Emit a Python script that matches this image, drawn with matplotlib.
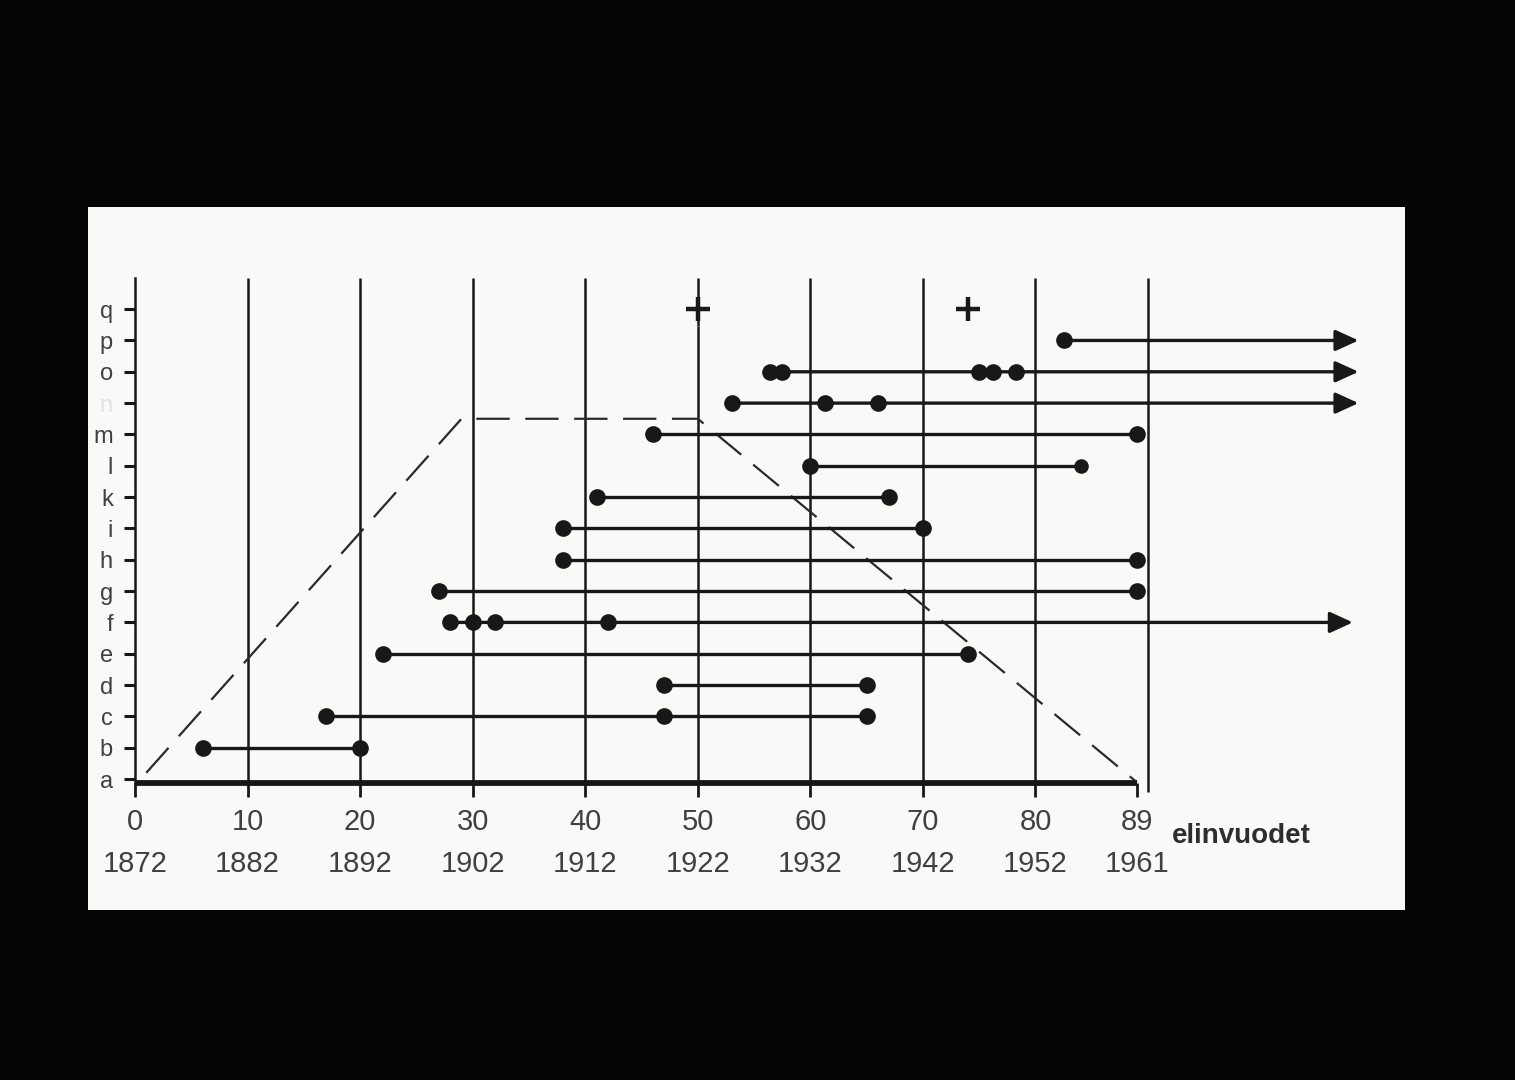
import matplotlib
matplotlib.use("Agg")
import matplotlib.pyplot as plt
from matplotlib import font_manager

# ---- fonts -------------------------------------------------------------
_available = {f.name for f in font_manager.fontManager.ttflist}


def pick(*names):
    for n in names:
        if n in _available:
            return n
    return "DejaVu Sans"


NUM_FONT = pick("Liberation Sans Narrow", "Liberation Sans", "DejaVu Sans")
TXT_FONT = pick("Liberation Sans", "DejaVu Sans")

# ---- data --------------------------------------------------------------
rows = ['a', 'b', 'c', 'd', 'e', 'f', 'g', 'h', 'i', 'k', 'l', 'm', 'n', 'o', 'p', 'q']
ages = [0, 10, 20, 30, 40, 50, 60, 70, 80, 89]
years = [1872, 1882, 1892, 1902, 1912, 1922, 1932, 1942, 1952, 1961]
grid_ages = [10, 20, 30, 40, 50, 60, 70, 80, 90]
axis_label = "elinvuodet"

# life spans per row: start age, end age (or arrow tip when the line continues)
span_rows = ['b', 'c', 'd', 'e', 'f', 'g', 'h', 'i', 'k', 'l', 'm', 'n', 'o', 'p']
span_start = [6, 17, 47, 22, 28, 27, 38, 38, 41, 60, 46, 53, 56.4, 82.5]
span_end = [20, 65, 65, 74, 108.2, 89, 89, 70, 67, 84, 89, 108.7, 108.7, 108.7]
span_continues = [False, False, False, False, True, False, False, False, False,
                  False, False, True, True, True]
span_marks = [
    [6, 20],
    [17, 47, 65],
    [47, 65],
    [22, 74],
    [28, 30, 32, 42],
    [27, 89],
    [38, 89],
    [38, 70],
    [41, 67],
    [60],
    [46, 89],
    [53, 61.3, 66],
    [56.4, 57.5, 75, 76.2, 78.3],
    [82.5],
]
small_marks_row = 'l'
small_marks = [84]

cross_row = 'q'
cross_ages = [50, 74]

outline_x = [1, 29, 50, 89]
outline_y = [0.2, 11.5, 11.5, -0.1]

# ---- figure ------------------------------------------------------------
INK = '#181818'
TEXT = '#404040'

fig = plt.figure(figsize=(15.15, 10.8), dpi=100, facecolor='#040404')
ax = fig.add_axes([88 / 1515, 1 - 910 / 1080, 1317 / 1515, 703 / 1080])
ax.set_facecolor('#f9f9f7')
ax.set_xlim(-4.18, 112.83)
ax.set_ylim(-4.18, 18.26)

base_y = -0.13
top_y = 16.0

# vertical grid lines (the one at 50 is interrupted under the cross)
for g in grid_ages:
    if g == 50:
        ax.vlines(g, 14.45, top_y, color=INK, lw=1.8, zorder=1)
        ax.vlines(g, base_y, 14.45, color=INK, lw=1.8, zorder=1)
    elif g == 90:
        ax.vlines(g, -0.42, top_y, color=INK, lw=1.8, zorder=1)
    else:
        ax.vlines(g, base_y, top_y, color=INK, lw=1.8, zorder=1)

# dashed outline
ax.plot(outline_x, outline_y, color='#2a2a2a', lw=1.6, ls=(0, (15, 7)), zorder=2)

# life lines
for r, s, e, cont, marks in zip(span_rows, span_start, span_end, span_continues, span_marks):
    y = rows.index(r)
    if cont:
        ax.annotate('', xy=(e, y), xytext=(s, y),
                    arrowprops=dict(arrowstyle='-|>,head_length=0.7,head_width=0.32',
                                    mutation_scale=20, lw=2.4, color=INK,
                                    shrinkA=0, shrinkB=0),
                    annotation_clip=False, zorder=3)
    else:
        ax.plot([s, e], [y, y], color=INK, lw=2.4, solid_capstyle='butt', zorder=3)
    ax.plot(marks, [y] * len(marks), 'o', color=INK, ms=12, mew=0, zorder=4)

ys = rows.index(small_marks_row)
ax.plot(small_marks, [ys] * len(small_marks), 'o', color=INK, ms=10.5, mew=0, zorder=4)

# crosses
yc = rows.index(cross_row)
ax.plot(cross_ages, [yc] * len(cross_ages), '+', color=INK, ms=17, mew=3.2, zorder=4)

# ---- axes styling ------------------------------------------------------
for side in ('top', 'right'):
    ax.spines[side].set_visible(False)
ax.spines['bottom'].set_position(('data', base_y))
ax.spines['bottom'].set_bounds(0, 89)
ax.spines['bottom'].set_linewidth(4.2)
ax.spines['bottom'].set_color(INK)
ax.spines['bottom'].set_capstyle('butt')
ax.spines['left'].set_position(('data', 0))
ax.spines['left'].set_bounds(base_y, top_y)
ax.spines['left'].set_linewidth(1.8)
ax.spines['left'].set_color(INK)

ax.set_xticks(ages, labels=[f"{a}\n{y}" for a, y in zip(ages, years)])
ax.tick_params(axis='x', length=10, width=2, pad=8, labelsize=21,
               color=INK, labelcolor=TEXT)
for lab in ax.get_xticklabels():
    lab.set_fontfamily(NUM_FONT)
    lab.set_linespacing(1.62)

ax.set_yticks(range(len(rows)), labels=rows)
ax.tick_params(axis='y', length=8, width=2.2, pad=8, labelsize=17,
               color=INK, labelcolor=TEXT)
for lab in ax.get_yticklabels():
    lab.set_fontfamily(TXT_FONT)
    if lab.get_text() == 'n':
        lab.set_color('#e2e2e0')

ax.text(92.1, -1.82, axis_label, ha='left', va='center', fontsize=20,
        fontweight='bold', color='#2e2e2e', family=TXT_FONT)

fig.savefig('out.png', dpi=100, facecolor=fig.get_facecolor())
